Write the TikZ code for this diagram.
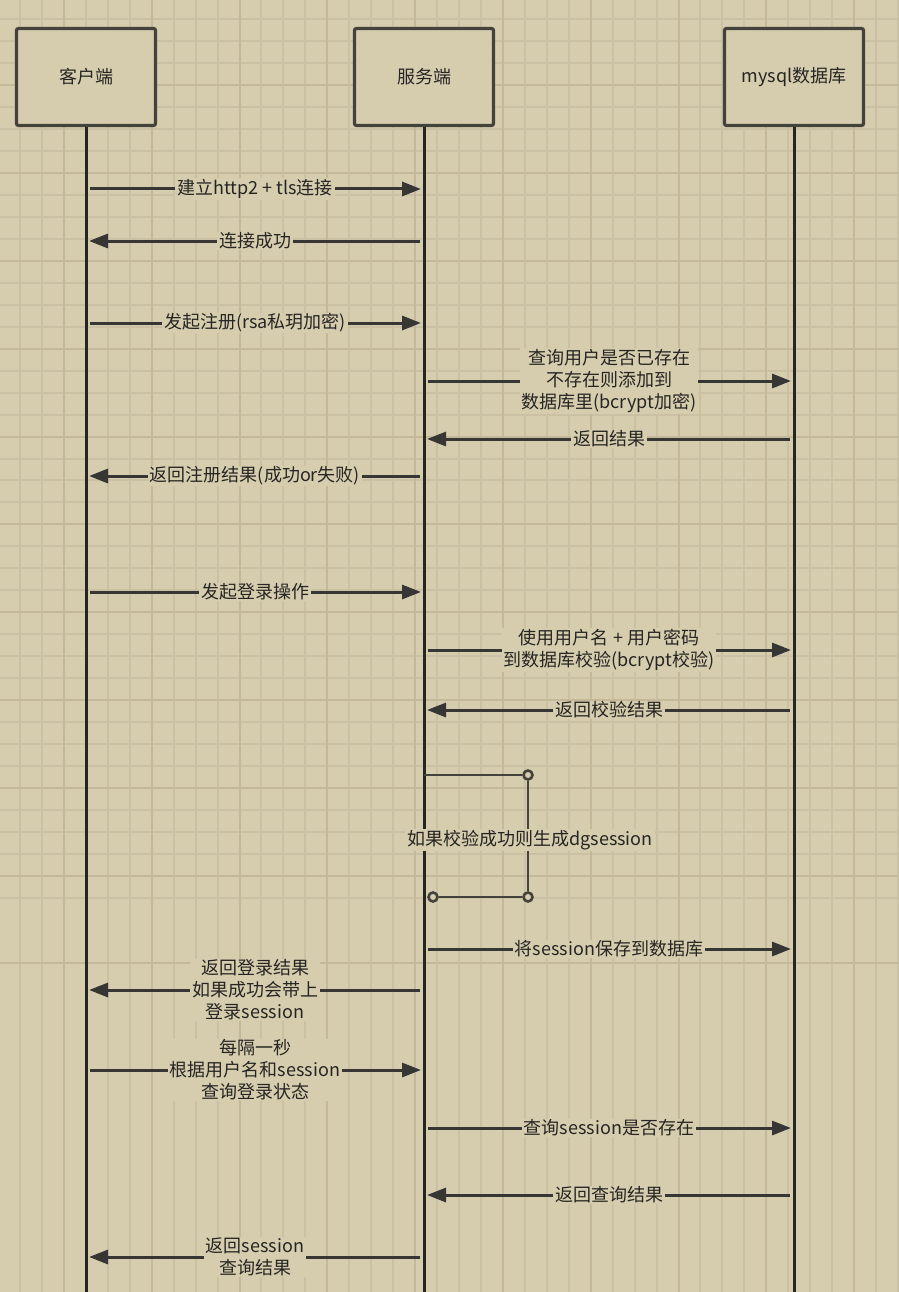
\documentclass[tikz,border=0pt]{standalone}
\usepackage{fontspec}
\setmainfont{Noto Sans CJK SC}
\usetikzlibrary{arrows.meta}

\definecolor{paper}{HTML}{D6CDAF}
\definecolor{gridc}{HTML}{CAC0A3}
\definecolor{gridm}{HTML}{C3B898}
\definecolor{ink}{HTML}{262522}
\definecolor{boxline}{HTML}{45423B}

\tikzset{
  actor/.style={rectangle, draw=boxline, fill=paper, line width=3.2pt, rounded corners=2pt,
    minimum width=139pt, minimum height=97pt, text=ink, font=\fontsize{18}{22}\selectfont},
  life/.style={draw=ink, line width=3pt},
  msg/.style={draw=ink!92, line width=3pt, shorten <=4pt, shorten >=3pt,
    -{Triangle[length=19pt,width=14pt]}},
  lbl/.style={fill=paper, inner xsep=2pt, inner ysep=1pt, align=center, text=ink,
    font=\fontsize{18}{22}\selectfont},
  dot/.style={circle, draw=boxline, fill=paper, line width=2.6pt, inner sep=0pt, minimum size=9pt},
  loopline/.style={draw=boxline, line width=2.8pt},
}

\begin{document}
\begin{tikzpicture}[x=1pt, y=-1pt]
	% paper and grid
	\fill[paper] (0,0) rectangle (898,1292);
	\useasboundingbox (0,0) rectangle (898,1292);
	\foreach \k in {0,...,41} {
		\draw[gridc, line width=2pt] ({-1.95+21.95*\k},0) -- ++(0,1292);
		\draw[gridc, line width=2pt] (0,{-2.45+21.95*\k}) -- ++(898,0);
	}
	\foreach \k in {0,...,10} {
		\draw[gridm, line width=2pt] ({64+87.8*\k},0) -- ++(0,1292);
		\draw[gridm, line width=2pt] (0,{85.35+87.8*\k}) -- ++(898,0);
	}

	% actors and lifelines
	\node at (86,77) [actor] (C) {客户端};
	\node at (424,77) [actor] (S) {服务端};
	\node at (794,77) [actor] (M) {mysql数据库};
	\draw[life] (C.south) -- (C.south |- 0,1292);
	\draw[life] (S.south) -- (S.south |- 0,1292);
	\draw[life] (M.south) -- (M.south |- 0,1292);

	% register
	\draw[msg] (C |- 0,189) -- (S |- 0,189) node[lbl, midway] (m1) {建立http2 + tls连接};
	\draw[msg] (S |- 0,241) -- (C |- 0,241) node[lbl, midway] (m2) {连接成功};
	\draw[msg] (C |- 0,323) -- (S |- 0,323) node[lbl, midway] (m3) {发起注册(rsa私玥加密)};
	\draw[msg] (S |- 0,381) -- (M |- 0,381) node[lbl, midway] (m4) {查询用户是否已存在\\不存在则添加到\\数据库里(bcrypt加密)};
	\draw[msg] (M |- 0,439) -- (S |- 0,439) node[lbl, midway] (m5) {返回结果};
	\draw[msg] (S |- 0,476) -- (C |- 0,476) node[lbl, midway] (m6) {返回注册结果(成功or失败)};

	% login
	\draw[msg] (C |- 0,592) -- (S |- 0,592) node[lbl, midway] (m7) {发起登录操作};
	\draw[msg] (S |- 0,650) -- (M |- 0,650) node[lbl, midway] (m8) {使用用户名 + 用户密码\\到数据库校验(bcrypt校验)};
	\draw[msg] (M |- 0,710) -- (S |- 0,710) node[lbl, midway] (m9) {返回校验结果};

	% self call
	\node at (528,775) [dot] (o1) {};
	\node at (528,897) [dot] (o2) {};
	\node at (433,897) [dot] (o3) {};
	\draw[loopline] (S |- o1) -- (o1) -- (o2) -- (o3);
	\node at (530,840) [lbl] (m10) {如果校验成功则生成dgsession};

	\draw[msg] (S |- 0,949) -- (M |- 0,949) node[lbl, midway] (m11) {将session保存到数据库};
	\draw[msg] (S |- 0,990) -- (C |- 0,990) node[lbl, midway] (m12) {返回登录结果\\如果成功会带上\\登录session};

	% polling
	\draw[msg] (C |- 0,1070) -- (S |- 0,1070) node[lbl, midway] (m13) {每隔一秒\\根据用户名和session\\查询登录状态};
	\draw[msg] (S |- 0,1128) -- (M |- 0,1128) node[lbl, midway] (m14) {查询session是否存在};
	\draw[msg] (M |- 0,1195) -- (S |- 0,1195) node[lbl, midway] (m15) {返回查询结果};
	\draw[msg] (S |- 0,1257) -- (C |- 0,1257) node[lbl, midway] (m16) {返回session\\查询结果};
\end{tikzpicture}
\end{document}
